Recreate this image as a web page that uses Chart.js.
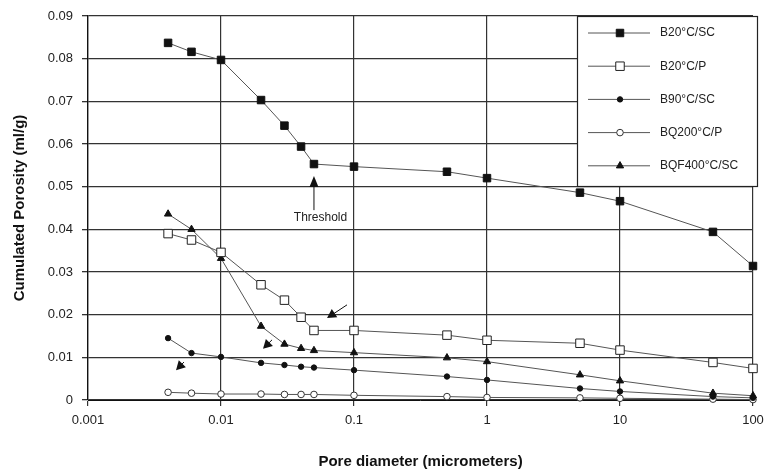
<!DOCTYPE html>
<html>
<head>
<meta charset="utf-8">
<script src="https://cdn.jsdelivr.net/npm/chart.js@4.4.0/dist/chart.umd.min.js"></script>
<style>
  html, body { margin: 0; padding: 0; background: #fff; }
  #wrap { width: 764px; height: 473px; }
</style>
</head>
<body>
<div id="wrap"><canvas id="chart" width="764" height="473"></canvas></div>
<script>
// Pore diameters (micrometers) shared by every series
var poreDiameters = [0.004, 0.006, 0.01, 0.02, 0.03, 0.04, 0.05, 0.1, 0.5, 1, 5, 10, 50, 100];

// Cumulated porosity (ml/g)
var b20sc   = [0.0837, 0.0816, 0.0797, 0.0703, 0.0643, 0.0594, 0.0553, 0.0547, 0.0535, 0.0520, 0.0486, 0.0466, 0.0394, 0.0314];
var b20p    = [0.0390, 0.0375, 0.0346, 0.0270, 0.0234, 0.0194, 0.0163, 0.0163, 0.0152, 0.0140, 0.0133, 0.0117, 0.0088, 0.0074];
var b90sc   = [0.0145, 0.0110, 0.0101, 0.0087, 0.0082, 0.0078, 0.0076, 0.0070, 0.0055, 0.0047, 0.0027, 0.0020, 0.0008, 0.0005];
var bq200p  = [0.0018, 0.0016, 0.0014, 0.0014, 0.0013, 0.0013, 0.0013, 0.0011, 0.0008, 0.0006, 0.0005, 0.0004, 0.0002, 0.0001];
var bqf400sc = [0.0436, 0.0400, 0.0332, 0.0173, 0.0131, 0.0121, 0.0116, 0.0111, 0.0099, 0.0090, 0.0059, 0.0045, 0.0016, 0.0010];

var seriesNames = ["B20°C/SC", "B20°C/P", "B90°C/SC", "BQ200°C/P", "BQF400°C/SC"];
var xTickValues = [0.001, 0.01, 0.1, 1, 10, 100];

// Annotations, in data units: [pore diameter, porosity]
var thresholdArrow = { tail: [0.05, 0.0445], tip: [0.05, 0.0525], text: "Threshold", textAt: [0.056, 0.0428] };
var pointerArrows = [
    { tail: [0.0886, 0.0223], tip: [0.0627, 0.0192] },
    { tail: [0.0242, 0.0141], tip: [0.0207, 0.0120] },
    { tail: [0.00527, 0.0089], tip: [0.00459, 0.0070] }
];

var FONT = "'Liberation Sans', Arial, sans-serif";

function toPoints(ys) {
    return ys.map(function(y, i) { return { x: poreDiameters[i], y: y }; });
}

var markerStyles = [
    { pointStyle: "rect", radius: 5.3, fill: "#111", stroke: "#111" },
    { pointStyle: "rect", radius: 6, fill: "#fff", stroke: "#222" },
    { pointStyle: "circle", radius: 2.7, fill: "#111", stroke: "#111" },
    { pointStyle: "circle", radius: 3.3, fill: "#fff", stroke: "#333" },
    { pointStyle: "triangle", radius: 4.2, fill: "#111", stroke: "#111" }
];
var seriesData = [b20sc, b20p, b90sc, bq200p, bqf400sc];

var datasets = seriesData.map(function(ys, i) {
    var m = markerStyles[i];
    return {
        label: seriesNames[i],
        data: toPoints(ys),
        borderColor: "#555",
        borderWidth: 1,
        pointStyle: m.pointStyle,
        pointRadius: m.radius,
        pointBackgroundColor: m.fill,
        pointBorderColor: m.stroke,
        pointBorderWidth: 1,
        tension: 0,
        clip: false
    };
});

function drawMarker(ctx, m, x, y) {
    ctx.save();
    ctx.fillStyle = m.fill; ctx.strokeStyle = m.stroke; ctx.lineWidth = 1;
    ctx.beginPath();
    if (m.pointStyle === "rect") {
        var s = m.radius * Math.SQRT1_2;
        ctx.rect(x - s, y - s, 2 * s, 2 * s);
    } else if (m.pointStyle === "circle") {
        ctx.arc(x, y, m.radius, 0, Math.PI * 2);
    } else {
        var r = m.radius;
        ctx.moveTo(x, y - r);
        ctx.lineTo(x + r * 0.866, y + r * 0.5);
        ctx.lineTo(x - r * 0.866, y + r * 0.5);
        ctx.closePath();
    }
    ctx.fill(); ctx.stroke();
    ctx.restore();
}

function drawArrow(ctx, x1, y1, x2, y2, headLen, headHalf) {
    var ang = Math.atan2(y2 - y1, x2 - x1);
    ctx.beginPath();
    ctx.moveTo(x1, y1); ctx.lineTo(x2 - Math.cos(ang) * headLen * 0.6, y2 - Math.sin(ang) * headLen * 0.6);
    ctx.stroke();
    ctx.beginPath();
    ctx.moveTo(x2, y2);
    ctx.lineTo(x2 - Math.cos(ang) * headLen - Math.sin(ang) * headHalf, y2 - Math.sin(ang) * headLen + Math.cos(ang) * headHalf);
    ctx.lineTo(x2 - Math.cos(ang) * headLen + Math.sin(ang) * headHalf, y2 - Math.sin(ang) * headLen - Math.cos(ang) * headHalf);
    ctx.closePath();
    ctx.fill();
}

var annotationPlugin = {
    id: "annotations",
    afterDatasetsDraw: function(chart) {
        var ctx = chart.ctx, xs = chart.scales.x, ys = chart.scales.y;
        function px(p) { return [xs.getPixelForValue(p[0]), ys.getPixelForValue(p[1])]; }
        ctx.save();
        ctx.strokeStyle = "#111"; ctx.fillStyle = "#111"; ctx.lineWidth = 1;
        var a = px(thresholdArrow.tail), b = px(thresholdArrow.tip);
        drawArrow(ctx, a[0], a[1], b[0], b[1], 11, 4.5);
        pointerArrows.forEach(function(arr) {
            var t = px(arr.tail), h = px(arr.tip);
            drawArrow(ctx, t[0], t[1], h[0], h[1], 9, 5);
        });
        var tp = px(thresholdArrow.textAt);
        ctx.font = "12px " + FONT; ctx.fillStyle = "#222";
        ctx.textAlign = "center"; ctx.textBaseline = "middle";
        ctx.fillText(thresholdArrow.text, tp[0], tp[1]);
        ctx.restore();
    }
};

var boxLegendPlugin = {
    id: "boxLegend",
    afterDraw: function(chart) {
        var ctx = chart.ctx, area = chart.chartArea;
        var w = 180, h = 170, left = area.right - 176, top = area.top;
        ctx.save();
        ctx.fillStyle = "#fff"; ctx.fillRect(left, top, w, h);
        ctx.strokeStyle = "#222"; ctx.lineWidth = 1.2;
        ctx.strokeRect(left + 0.5, top + 0.5, w, h);
        ctx.font = "12px " + FONT; ctx.textBaseline = "middle"; ctx.textAlign = "left";
        seriesNames.forEach(function(name, i) {
            var y = top + 17 + i * 33.2;
            ctx.strokeStyle = "#555"; ctx.lineWidth = 1;
            ctx.beginPath(); ctx.moveTo(left + 11, y); ctx.lineTo(left + 73, y); ctx.stroke();
            drawMarker(ctx, markerStyles[i], left + 43, y);
            ctx.fillStyle = "#222";
            ctx.fillText(name, left + 83, y);
        });
        ctx.restore();
    }
};

new Chart(document.getElementById("chart"), {
    type: "line",
    data: { datasets: datasets },
    plugins: [annotationPlugin, boxLegendPlugin],
    options: {
        responsive: false,
        animation: false,
        layout: { padding: { left: 0, right: 11, top: 16, bottom: 0 } },
        plugins: { legend: { display: false }, tooltip: { enabled: false } },
        scales: {
            x: {
                type: "logarithmic",
                min: 0.001, max: 100,
                afterBuildTicks: function(scale) {
                    scale.ticks = xTickValues.map(function(v) { return { value: v, major: true }; });
                },
                afterFit: function(scale) {
                    scale.height = 73;
                    scale.paddingLeft = 0; scale.paddingRight = 0;
                },
                ticks: {
                    autoSkip: false, maxRotation: 0, padding: 7,
                    color: "#222", font: { family: FONT, size: 13 },
                    callback: function(v) { return String(v); }
                },
                grid: { color: "#333", lineWidth: 1.2, tickLength: 6 },
                border: { display: true, color: "#111", width: 1 },
                title: {
                    display: true, text: "Pore diameter (micrometers)",
                    color: "#111", font: { family: FONT, size: 15, weight: "bold" },
                    padding: { top: 0, bottom: 2 }
                }
            },
            y: {
                min: 0, max: 0.09,
                afterFit: function(scale) {
                    scale.width = 88;
                    scale.paddingTop = 0; scale.paddingBottom = 0;
                },
                ticks: {
                    stepSize: 0.01, padding: 9,
                    color: "#222", font: { family: FONT, size: 13 },
                    callback: function(v) { return v === 0 ? "0" : v.toFixed(2); }
                },
                grid: { color: "#333", lineWidth: 1.3, tickLength: 6 },
                border: { display: true, color: "#111", width: 1.3 },
                title: {
                    display: true, text: "Cumulated Porosity (ml/g)",
                    color: "#111", font: { family: FONT, size: 15, weight: "bold" },
                    padding: { top: 11, bottom: 0 }
                }
            }
        }
    }
});
</script>
</body>
</html>
